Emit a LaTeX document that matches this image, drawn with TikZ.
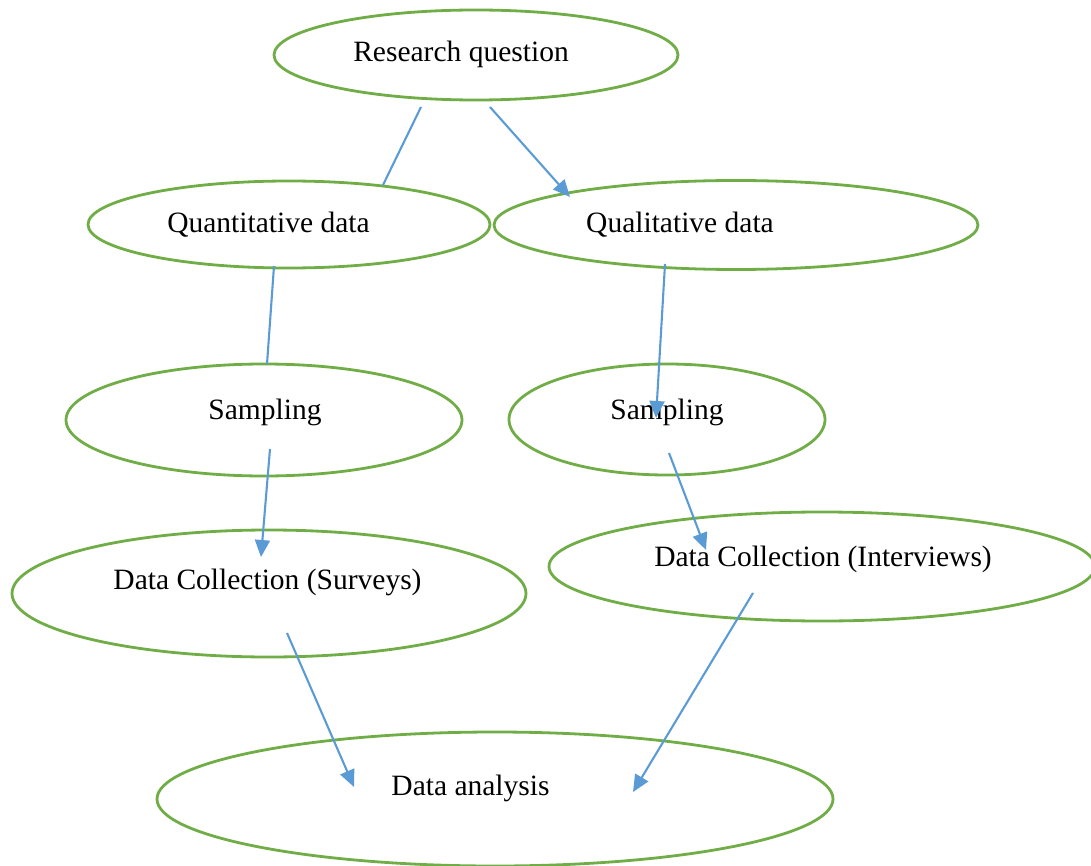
\documentclass[tikz,border=0pt]{standalone}
\usepackage{fontspec}
\setmainfont{Liberation Serif}
\usetikzlibrary{shapes.geometric,arrows.meta}
\definecolor{ovalgreen}{HTML}{70AD47}
\definecolor{linkblue}{HTML}{5B9BD5}
\tikzset{
  oval/.style={ellipse, draw=ovalgreen, line width=2.8pt, inner sep=0pt},
  lbl/.style={font=\fontsize{29.5}{33}\selectfont, inner sep=0pt},
  link/.style={draw=linkblue, line width=2.1pt},
  arrowlink/.style={link, -{Triangle[length=17pt,width=15pt]}},
}
\begin{document}
\begin{tikzpicture}[x=1pt,y=-1pt]
\useasboundingbox (0,0) rectangle (1091,866);
% ovals
\node[oval, minimum width=404pt, minimum height=90pt] (rq) at (476,55) {};
\node[oval, minimum width=402pt, minimum height=87pt] (quant) at (289,224.5) {};
\node[oval, minimum width=484pt, minimum height=89pt] (qual) at (736,225) {};
\node[oval, minimum width=396pt, minimum height=112pt] (sampL) at (264,420) {};
\node[oval, minimum width=316pt, minimum height=111pt] (sampR) at (667,419.5) {};
\node[oval, minimum width=514pt, minimum height=127pt] (dcs) at (269,593.5) {};
\node[oval, minimum width=546pt, minimum height=109pt] (dci) at (822,566.5) {};
\node[oval, minimum width=676pt, minimum height=134pt] (da) at (495,799) {};
% labels
\node[lbl] (trq) at (461,54.5) {Research question};
\node[lbl] (tquant) at (268.5,224.5) {Quantitative data};
\node[lbl] (tqual) at (680,224.5) {Qualitative data};
\node[lbl] (tsampL) at (265,412.5) {Sampling};
\node[lbl] (tsampR) at (667,412.5) {Sampling};
\node[lbl] (tdcs) at (267.5,582.5) {Data Collection (Surveys)};
\node[lbl] (tdci) at (823,559.5) {Data Collection (Interviews)};
\node[lbl] (tda) at (470.5,788.5) {Data analysis};
% connector end points
\coordinate (a1) at (421,107); \coordinate (a2) at (383,185);
\coordinate (b1) at (490,107); \coordinate (b2) at (570,197);
\coordinate (c1) at (274,266); \coordinate (c2) at (267,364);
\coordinate (d1) at (665,264); \coordinate (d2) at (656,418);
\coordinate (e1) at (270,449); \coordinate (e2) at (261,557);
\coordinate (f1) at (669,453); \coordinate (f2) at (706,550);
\coordinate (g1) at (287,633); \coordinate (g2) at (354,787);
\coordinate (h1) at (753,593); \coordinate (h2) at (633,792);
% connectors
\draw[link] (a1) -- (a2);
\draw[arrowlink] (b1) -- (b2);
\draw[link] (c1) -- (c2);
\draw[arrowlink] (d1) -- (d2);
\draw[arrowlink] (e1) -- (e2);
\draw[arrowlink] (f1) -- (f2);
\draw[arrowlink] (g1) -- (g2);
\draw[arrowlink] (h1) -- (h2);
\end{tikzpicture}
\end{document}
